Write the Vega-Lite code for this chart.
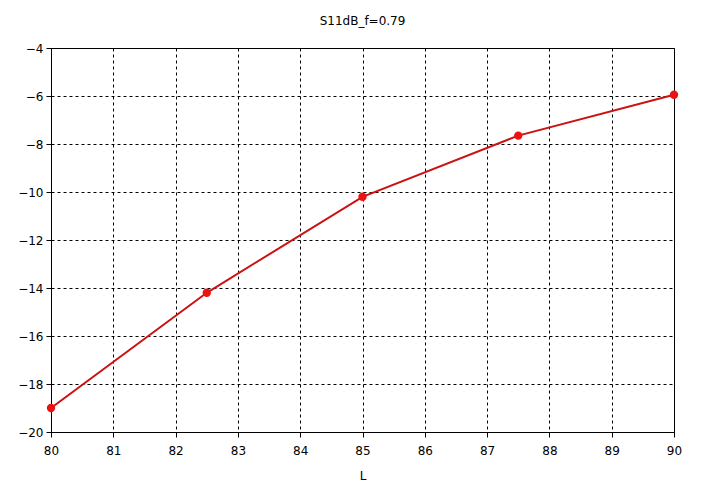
{
  "$schema": "https://vega.github.io/schema/vega-lite/v6.json",
  "width": 623,
  "height": 384,
  "autosize": {"type": "none"},
  "padding": {"left": 51, "top": 48, "right": 35, "bottom": 55},
  "background": "white",
  "title": {"text": "S11dB_f=0.79", "fontSize": 12, "fontWeight": "normal", "font": "DejaVu Sans", "color": "black", "offset": 14, "anchor": "middle"},
  "config": {
    "view": {"stroke": "black", "strokeWidth": 1},
    "axis": {
      "labelFont": "DejaVu Sans",
      "labelFontSize": 12,
      "labelColor": "black",
      "titleFont": "DejaVu Sans",
      "titleFontSize": 12,
      "titleFontWeight": "normal",
      "titleColor": "black",
      "domainColor": "black",
      "tickColor": "black",
      "tickSize": 5,
      "gridColor": "black",
      "gridOpacity": 1,
      "gridDash": [3, 3],
      "gridWidth": 1
    }
  },
  "data": {"values": [
    {"L": 80, "S11dB": -19.0},
    {"L": 82.5, "S11dB": -14.2},
    {"L": 85, "S11dB": -10.2},
    {"L": 87.5, "S11dB": -7.65},
    {"L": 90, "S11dB": -5.95}
  ]},
  "encoding": {
    "x": {"field": "L", "type": "quantitative", "scale": {"domain": [80, 90], "nice": false, "zero": false},
      "axis": {"title": "L", "values": [80,81,82,83,84,85,86,87,88,89,90], "labelPadding": 8, "titlePadding": 14, "labelFlush": false}},
    "y": {"field": "S11dB", "type": "quantitative", "scale": {"domain": [-20, -4], "nice": false, "zero": false},
      "axis": {"title": null, "values": [-20,-18,-16,-14,-12,-10,-8,-6,-4], "labelPadding": 3, "labelFlush": false}}
  },
  "layer": [
    {"mark": {"type": "line", "color": "#cc1111", "strokeWidth": 2}},
    {"mark": {"type": "point", "filled": true, "color": "#ee1111", "size": 70, "opacity": 1}}
  ]
}
